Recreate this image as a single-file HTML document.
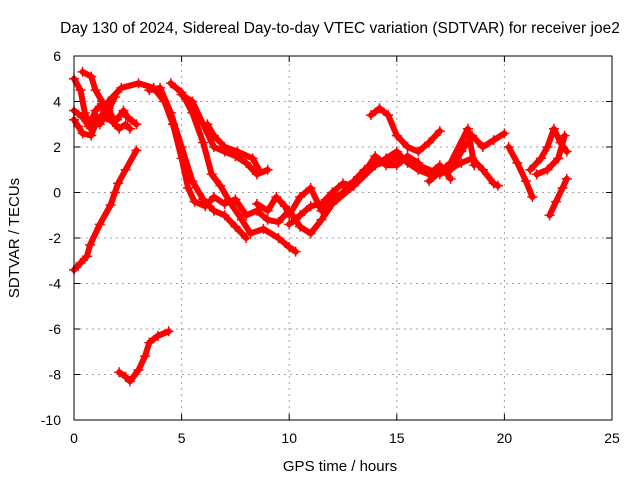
<!DOCTYPE html>
<html><head><meta charset="utf-8"><style>
body{margin:0;background:#fff;}
svg{display:block;font-family:"Liberation Sans",sans-serif;}
</style></head><body>
<svg id="chart" width="640" height="480" viewBox="0 0 640 480" xmlns="http://www.w3.org/2000/svg">
<rect x="0" y="0" width="640" height="480" fill="#fff"/>
<text x="340" y="33" font-size="15.5" text-anchor="middle">Day 130 of 2024, Sidereal Day-to-day VTEC variation (SDTVAR) for receiver joe2</text>
<text x="340" y="471" font-size="15" text-anchor="middle">GPS time / hours</text>
<text x="19" y="238" font-size="15" text-anchor="middle" transform="rotate(-90 19 238)">SDTVAR / TECUs</text>
<g id="grid"></g>
<g id="ticks"></g>
<g id="series"></g>
<rect x="74" y="56" width="538" height="364" fill="none" stroke="#000" stroke-width="1"/>
</svg>
<script>
const xTicks=[0,5,10,15,20,25];
const yTicks=[-10,-8,-6,-4,-2,0,2,4,6];
const tracks=[
[[0,-3.4],[0.3,-3.1],[0.6,-2.8],[0.75,-2.3],[1.2,-1.4],[1.7,-0.55],[1.9,0],[2.05,0.4],[2.4,1.0],[2.9,1.85]],
[[2.1,-7.9],[2.4,-8.1],[2.6,-8.3],[3.0,-7.8],[3.3,-7.2],[3.5,-6.6],[3.9,-6.3],[4.4,-6.1]],
[[0,5],[0.3,4.5],[0.5,3.5],[0.8,2.8],[1.0,3.4],[1.2,3.2],[1.5,3.8],[1.8,3.3],[2,3.2],[2.3,3.6],[2.5,3.3],[2.9,3.0]],
[[0,3.2],[0.2,2.9],[0.4,2.6],[0.8,2.5],[1.0,3.0],[1.2,3.0],[1.6,3.6],[1.9,4.2]],
[[0,3.6],[0.4,3.3],[0.7,2.9],[1.0,3.6],[1.3,3.9],[1.5,3.3],[1.8,3.1],[2.1,2.8],[2.4,3.0],[2.6,2.8]],
[[0.4,5.3],[0.8,5.1],[1.0,4.5],[1.3,4.0],[1.6,3.7]],
[[1.6,4.0],[2.2,4.6],[3,4.8],[3.7,4.6],[4.2,4.0],[4.6,3.0],[5,1.5],[5.3,0.2],[5.6,-0.4],[6.1,-0.6],[6.5,-0.2],[7,-0.5],[7.5,-0.3],[8,-1.0],[8.5,-0.8],[9,-1.2],[9.5,-1.3],[10,-0.8],[10.5,-1.5],[11,-1.8],[11.5,-1.2],[12,-0.5],[13,0.3],[14,1.2],[15,1.5]],
[[4.5,4.8],[5,4.4],[5.5,3.5],[6,2.2],[6.4,0.8],[6.8,0.3],[7.3,-0.5],[7.8,-1.2],[8.2,-1.8],[8.8,-1.6],[9.5,-2.0],[10,-2.4],[10.3,-2.6]],
[[5,4.3],[5.5,4.0],[6,3.0],[6.5,2.0],[7,1.8],[7.5,1.6],[8,1.3],[8.5,0.8],[9,1.0]],
[[3.5,4.5],[4.0,4.6],[4.5,3.5],[5,2.0],[5.5,0.5],[6,-0.3],[6.5,-0.8],[7,-1.0],[7.5,-1.5],[8,-2.0]],
[[6.2,3.0],[6.5,2.5],[7,2.0],[7.6,1.8],[8.3,1.5],[8.6,1.0]],
[[8.5,-0.5],[9,-0.8],[9.4,-0.2],[9.8,-0.6],[10,-1.0],[10.5,-0.2],[11,0.2],[11.5,-0.8],[12,-0.3],[12.5,0],[13,0.5],[13.5,1.0],[14,1.2],[14.5,1.5],[15,1.8],[15.5,1.3],[16,1.0],[16.5,0.8],[17,1.2],[17.5,0.6]],
[[10,-1.4],[10.5,-1.0],[11,-0.6],[11.5,-0.5],[12,0],[12.5,0.4],[13,0.3],[13.5,0.9],[14,1.6],[14.5,1.2],[15,1.2],[15.5,1.6],[16,1.3]],
[[13.8,3.4],[14.2,3.7],[14.6,3.4],[15,2.5],[15.5,2.0],[16,1.8],[16.5,2.2],[17,2.7]],
[[15,1.5],[16,1.2],[17,0.8],[18,1.3],[18.5,1.5],[19,1.0],[19.5,0.4],[19.7,0.3]],
[[17.5,1.0],[18,1.8],[18.5,2.5],[19,2.0],[19.5,2.3],[20,2.6]],
[[16.5,0.5],[17.5,1.3],[18.3,2.8],[18.6,1.2]],
[[20.2,2.0],[20.6,1.3],[21,0.5],[21.3,-0.2]],
[[21.2,1.0],[21.7,1.5],[22,2.0],[22.3,2.8],[22.6,2.2],[22.9,1.8]],
[[21.5,0.8],[22,1.0],[22.5,1.5],[22.8,2.5]],
[[22.1,-1.0],[22.4,-0.4],[22.7,0.2],[22.9,0.6]]
];
const NS='http://www.w3.org/2000/svg';
const X0=74,X1=612,Y0=420,Y1=56;
function sx(v){return X0+(v-0)/(25-0)*(X1-X0);}
function sy(v){return Y0-(v+10)/(6+10)*(Y0-Y1);}
function mk(t,a,p){const e=document.createElementNS(NS,t);for(const k in a)e.setAttribute(k,a[k]);p.appendChild(e);return e;}
const grid=document.getElementById('grid'),ticks=document.getElementById('ticks'),ser=document.getElementById('series');
xTicks.forEach(v=>{
 const x=sx(v);
 if(v>0&&v<25){const g=mk('line',{x1:x,y1:Y0,x2:x,y2:Y1,stroke:'#a0a0a0','stroke-dasharray':'2,4'},grid);
 
 }
 mk('line',{x1:x,y1:Y0,x2:x,y2:Y0-6,stroke:'#000'},ticks);
 mk('line',{x1:x,y1:Y1,x2:x,y2:Y1+6,stroke:'#000'},ticks);
 const t=mk('text',{x:x,y:Y0+23,'font-size':14,'text-anchor':'middle'},ticks);t.textContent=v;
 
 
});
yTicks.forEach(v=>{
 const y=sy(v);
 if(v>-10&&v<6){const g=mk('line',{x1:X0,y1:y,x2:X1,y2:y,stroke:'#a0a0a0','stroke-dasharray':'2,4'},grid);
 
 }
 mk('line',{x1:X0,y1:y,x2:X0+6,y2:y,stroke:'#000'},ticks);
 mk('line',{x1:X1,y1:y,x2:X1-6,y2:y,stroke:'#000'},ticks);
 const t=mk('text',{x:X0-13,y:y+5,'font-size':14,'text-anchor':'end'},ticks);t.textContent=v;
 
 
});
tracks.forEach(tr=>{
 const d=tr.map((p,i)=>(i?'L':'M')+sx(p[0]).toFixed(1)+' '+sy(p[1]).toFixed(1)).join(' ');
 const path=mk('path',{d:d,fill:'none',stroke:'#ff0000','stroke-width':6,'stroke-linejoin':'round','stroke-linecap':'round'},ser);
 
 
 tr.forEach(p=>{
  const x=sx(p[0]),y=sy(p[1]);
  const m=mk('path',{d:`M${x-5} ${y}H${x+5}M${x} ${y-5}V${y+5}`,stroke:'#ff0000','stroke-width':1.5},ser);
  
  
 });
});
</script>
</body></html>
